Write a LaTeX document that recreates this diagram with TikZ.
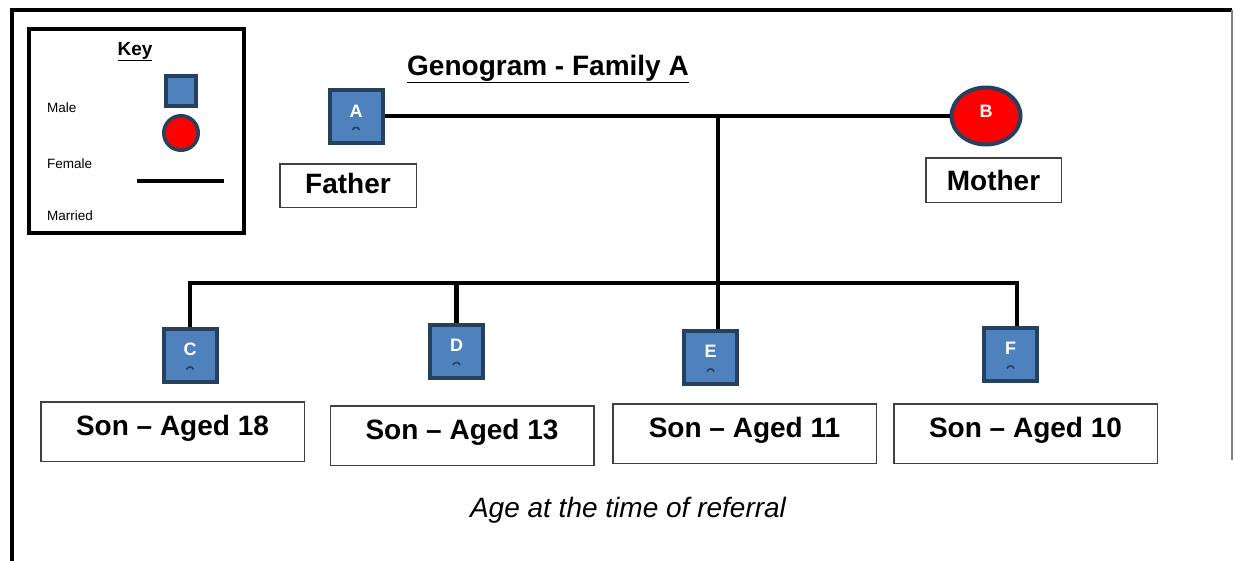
\documentclass[tikz,border=0pt]{standalone}
\usepackage{fontspec}
\setmainfont{Liberation Sans}
\usetikzlibrary{shapes.geometric}
\definecolor{mblue}{HTML}{4F81BD}
\definecolor{navy}{HTML}{26405F}
\definecolor{boxgray}{HTML}{404040}
\begin{document}
\begin{tikzpicture}[x=1pt,y=-1pt,
  male/.style={rectangle, draw=navy, fill=mblue, line width=4pt, minimum size=53pt, inner sep=0pt},
  female/.style={ellipse, draw=navy, fill=red, line width=4pt, minimum width=69pt, minimum height=57pt, inner sep=0pt},
  letter/.style={text=white, font=\bfseries\fontsize{18}{18}\selectfont, inner sep=0pt},
  arcmark/.style={draw=navy, line width=1.6pt},
  famline/.style={line width=4.5pt, line cap=rect},
  labelbox/.style={draw=boxgray, line width=1.5pt, font=\bfseries\fontsize{28}{28}\selectfont, inner sep=0pt},
  sonbox/.style={labelbox, minimum width=263.5pt, minimum height=59.5pt, text height=20pt, text depth=13pt},
  keytext/.style={font=\fontsize{13.5}{14}\selectfont, inner sep=0pt, anchor=base west}
]
\useasboundingbox (0,0) rectangle (1234,560);
\fill[white] (0,0) rectangle (1234,560);

% outer frame
\draw[line width=4pt] (12,562) -- (12,10) -- (1232,10);
\draw[gray, line width=1.5pt] (1232,10) -- (1232,460);

% key
\node[draw, line width=4pt, minimum width=215pt, minimum height=204pt, inner sep=0pt] (key) at (136.5,131) {};
\node[font=\bfseries\fontsize{19}{19}\selectfont, inner sep=0pt, anchor=base] (keyt) at (135,55) {\underline{Key}};
\node[keytext] (kmale) at (47,112) {Male};
\node[keytext] (kfemale) at (47,168) {Female};
\node[keytext] (kmarried) at (47,220) {Married};
\node[rectangle, draw=navy, fill=mblue, line width=4pt, minimum size=30pt, inner sep=0pt] (ksq) at (181,91) {};
\node[circle, draw=navy, fill=red, line width=3.5pt, minimum size=34.5pt, inner sep=0pt] (kci) at (181,133) {};
\coordinate (kl1) at (137,181);
\coordinate (kl2) at (224,181);
\draw[line width=4.5pt] (kl1) -- (kl2);

% title
\node[font=\bfseries\fontsize{28}{28}\selectfont, inner sep=0pt, anchor=base] (title) at (548,75) {\underline{Genogram - Family A}};

% parents
\node[male] (A) at (356,116) {};
\node[letter] (Al) at (356,111) {A};
\draw[arcmark] ([xshift=-3.5pt,yshift=-14pt]A.center) .. controls +(1pt,3.5pt) and +(-1pt,3.5pt) .. ([xshift=3.5pt,yshift=-14pt]A.center);
\node[female] (B) at (986,116) {};
\node[letter] (Bl) at (986,111) {B};

\node[labelbox, minimum width=136.5pt, minimum height=43.5pt, text height=20pt, text depth=5pt] (fa) at (348,185.5) {Father};
\node[labelbox, minimum width=135.5pt, minimum height=44.5pt, text height=20pt, text depth=0pt] (mo) at (993.5,180) {Mother};

% children
\node[male] (C) at (190,355.5) {};
\node[male] (D) at (456.5,351) {};
\node[male] (E) at (710.5,357.5) {};
\node[male] (F) at (1010.5,354.5) {};
\foreach \n/\t in {C/C,D/D,E/E,F/F}{
  \node[letter] (\n l) at ([yshift=6pt]\n.center) {\t};
  \draw[arcmark] ([xshift=-3.5pt,yshift=-14pt]\n.center) .. controls +(1pt,3.5pt) and +(-1pt,3.5pt) .. ([xshift=3.5pt,yshift=-14pt]\n.center);
}

% connectors
\coordinate (m) at (718,116);
\coordinate (s) at (718,283);
\coordinate (fd) at (1017,283);
\draw[line width=4.5pt] (A.east) -- (B.west);
\draw[famline] (m) -- (s);
\draw[famline, line cap=butt, line join=miter] (C.north) -- (C.north |- s) -- (fd) -- (fd |- F.north);
\draw[famline, line cap=butt] (D.north |- s) -- (D.north);
\draw[famline, line cap=butt] (s) -- (s |- E.north);

% son labels
\node[sonbox] (lc) at (172.5,431.5) {Son -- Aged 18};
\node[sonbox] (ld) at (462,435.5) {Son -- Aged 13};
\node[sonbox] (le) at (744.5,433.5) {Son -- Aged 11};
\node[sonbox] (lf) at (1025.5,433.5) {Son -- Aged 10};

\node[font=\itshape\fontsize{28}{28}\selectfont, inner sep=0pt] (note) at (628,510) {Age at the time of referral};
\end{tikzpicture}
\end{document}
